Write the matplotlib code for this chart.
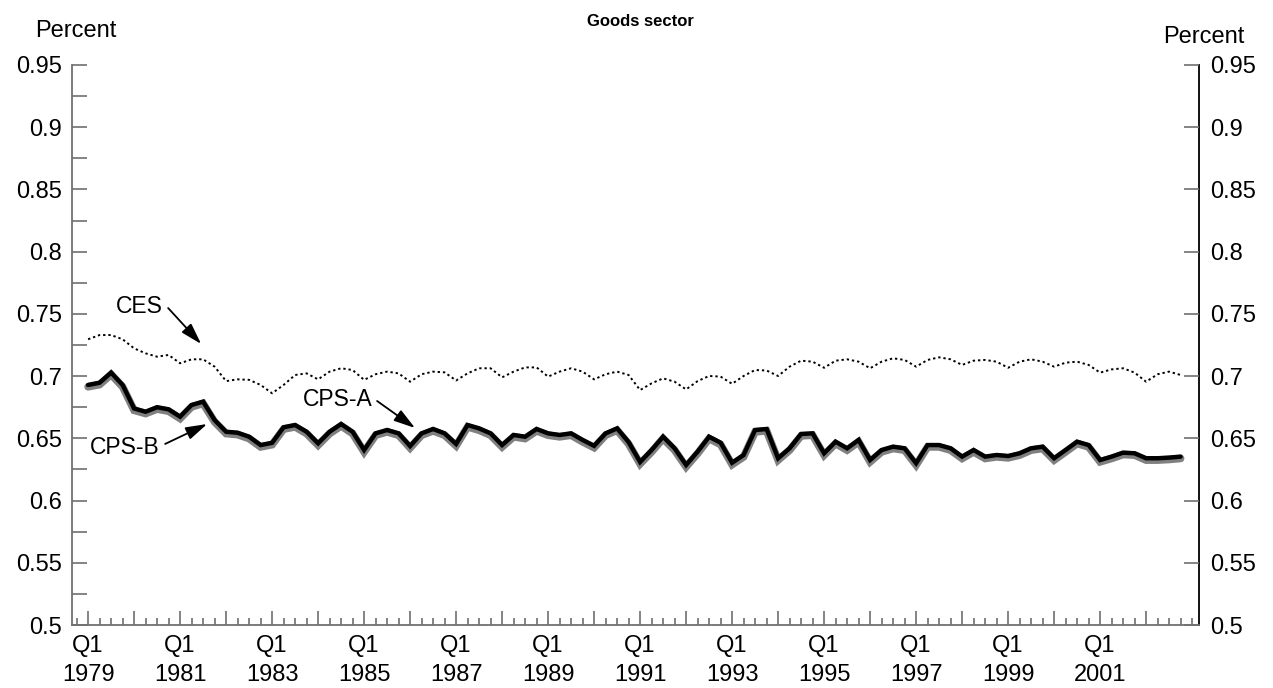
import matplotlib
matplotlib.use("Agg")
import matplotlib.pyplot as plt
from matplotlib.ticker import FixedLocator, MultipleLocator, FuncFormatter

plt.rcParams['font.family'] = ['Liberation Sans', 'DejaVu Sans']

# Quarterly data, 1979 Q1 .. 2002 Q4
start_year = 1979
n_quarters = 96

ces = [0.7296, 0.7330, 0.7330, 0.7296, 0.7223, 0.7183, 0.7156, 0.7170,
       0.7103, 0.7135, 0.7135, 0.7076, 0.6960, 0.6974, 0.6970, 0.6929,
       0.6862, 0.6929, 0.7009, 0.7022, 0.6974, 0.7036, 0.7063, 0.7049,
       0.6970, 0.7015, 0.7036, 0.7022, 0.6955, 0.7015, 0.7036, 0.7030,
       0.6965, 0.7022, 0.7063, 0.7063, 0.6990, 0.7036, 0.7070, 0.7070,
       0.6996, 0.7036, 0.7063, 0.7036, 0.6974, 0.7015, 0.7036, 0.7009,
       0.6888, 0.6942, 0.6982, 0.6955, 0.6893, 0.6960, 0.7001, 0.6996,
       0.6938, 0.7001, 0.7049, 0.7045, 0.7001, 0.7076, 0.7124, 0.7116,
       0.7067, 0.7124, 0.7135, 0.7116, 0.7063, 0.7116, 0.7143, 0.7130,
       0.7076, 0.7130, 0.7151, 0.7135, 0.7090, 0.7124, 0.7130, 0.7116,
       0.7067, 0.7116, 0.7135, 0.7116, 0.7076, 0.7108, 0.7116, 0.7090,
       0.7028, 0.7054, 0.7063, 0.7028, 0.6955, 0.7015, 0.7036, 0.7009]

cps_a = [0.6929, 0.6947, 0.7028, 0.6929, 0.6740, 0.6714, 0.6750, 0.6733,
         0.6674, 0.6768, 0.6795, 0.6647, 0.6553, 0.6545, 0.6513, 0.6446,
         0.6464, 0.6589, 0.6607, 0.6553, 0.6460, 0.6553, 0.6615, 0.6553,
         0.6406, 0.6540, 0.6567, 0.6540, 0.6438, 0.6540, 0.6575, 0.6540,
         0.6455, 0.6607, 0.6580, 0.6540, 0.6446, 0.6527, 0.6513, 0.6575,
         0.6540, 0.6527, 0.6540, 0.6487, 0.6440, 0.6540, 0.6580, 0.6470,
         0.6310, 0.6406, 0.6513, 0.6420, 0.6286, 0.6393, 0.6513, 0.6465,
         0.6304, 0.6366, 0.6567, 0.6575, 0.6340, 0.6420, 0.6535, 0.6540,
         0.6380, 0.6473, 0.6420, 0.6487, 0.6326, 0.6406, 0.6433, 0.6420,
         0.6300, 0.6446, 0.6446, 0.6420, 0.6353, 0.6406, 0.6353, 0.6366,
         0.6358, 0.6380, 0.6420, 0.6433, 0.6340, 0.6406, 0.6473, 0.6446,
         0.6326, 0.6353, 0.6385, 0.6380, 0.6340, 0.6340, 0.6345, 0.6353]

cps_b = [0.6914, 0.6932, 0.7013, 0.6914, 0.6725, 0.6699, 0.6735, 0.6718,
         0.6659, 0.6753, 0.6780, 0.6632, 0.6538, 0.6530, 0.6498, 0.6431,
         0.6449, 0.6574, 0.6592, 0.6538, 0.6445, 0.6538, 0.6600, 0.6538,
         0.6391, 0.6525, 0.6552, 0.6525, 0.6423, 0.6525, 0.6560, 0.6525,
         0.6440, 0.6592, 0.6565, 0.6525, 0.6431, 0.6512, 0.6498, 0.6560,
         0.6525, 0.6512, 0.6525, 0.6472, 0.6425, 0.6525, 0.6565, 0.6455,
         0.6295, 0.6391, 0.6498, 0.6405, 0.6271, 0.6378, 0.6498, 0.6450,
         0.6289, 0.6351, 0.6552, 0.6560, 0.6325, 0.6405, 0.6520, 0.6525,
         0.6365, 0.6458, 0.6405, 0.6472, 0.6311, 0.6391, 0.6418, 0.6405,
         0.6285, 0.6431, 0.6431, 0.6405, 0.6338, 0.6391, 0.6338, 0.6351,
         0.6343, 0.6365, 0.6405, 0.6418, 0.6325, 0.6391, 0.6458, 0.6431,
         0.6311, 0.6338, 0.6370, 0.6365, 0.6325, 0.6325, 0.6330, 0.6338]

x = list(range(n_quarters))

W, H = 1273, 688
fig = plt.figure(figsize=(W / 100, H / 100), dpi=100)
ax = fig.add_axes([72 / W, (H - 625) / H, (1199 - 72) / W, (625 - 65) / H])

ax.plot(x, ces, color='black', lw=1.4, linestyle=(0, (1.2, 1.5)))
ax.plot(x, cps_b, color='#808080', lw=5.5, solid_joinstyle='miter', solid_capstyle='round')
ax.plot(x, cps_a, color='black', lw=3.2, solid_joinstyle='miter', solid_capstyle='round')

ax.set_xlim(-1.4, 96.6)
ax.set_ylim(0.5, 0.95)

axis_gray = '#707070'
ax.spines['top'].set_visible(False)
ax.spines['left'].set_color(axis_gray)
ax.spines['bottom'].set_color(axis_gray)
ax.spines['right'].set_color('black')
for s in ax.spines.values():
    s.set_linewidth(1.3)

# x ticks: quarterly minor, yearly major, labels every two years
ax.xaxis.set_major_locator(FixedLocator(list(range(0, n_quarters, 4))))
ax.xaxis.set_minor_locator(MultipleLocator(1))

def xfmt(v, pos):
    i = int(round(v))
    if i % 8 == 0:
        return "Q1\n%d" % (start_year + i // 4)
    return ""

ax.xaxis.set_major_formatter(FuncFormatter(xfmt))
ax.tick_params(axis='x', which='major', direction='in', length=10, width=1.2,
               color=axis_gray, labelsize=17, pad=7.5)
ax.tick_params(axis='x', which='minor', direction='in', length=5, width=1.2,
               color=axis_gray)
for lab in ax.get_xticklabels():
    lab.set_linespacing(1.38)

# y ticks: labels on both sides
yticks = [0.5, 0.55, 0.6, 0.65, 0.7, 0.75, 0.8, 0.85, 0.9, 0.95]
ax.set_yticks(yticks)
ax.yaxis.set_minor_locator(MultipleLocator(0.025))
ax.yaxis.set_major_formatter(FuncFormatter(lambda v, p: "%g" % round(v, 3)))
ax.tick_params(axis='y', which='both', direction='in', length=11, width=1.2,
               color=axis_gray, labelsize=17, pad=7,
               left=True, right=False, labelleft=True, labelright=False)

ax2 = ax.twinx()
ax2.set_ylim(ax.get_ylim())
ax2.set_yticks(yticks)
ax2.yaxis.set_major_formatter(FuncFormatter(lambda v, p: "%g" % round(v, 3)))
ax2.tick_params(axis='y', direction='in', length=11, width=1.2,
                color=axis_gray, labelsize=17, pad=8)
for s in ax2.spines.values():
    s.set_visible(False)

# annotation labels and arrows
arrow = dict(arrowstyle='-|>,head_length=0.5,head_width=0.15', color='black',
             lw=1.3, mutation_scale=26, shrinkA=0, shrinkB=0)
ax.text(6.52, 0.7563, 'CES', fontsize=16.5, ha='right', va='center')
ax.annotate('', xy=(9.83, 0.7258), xytext=(6.96, 0.7547), arrowprops=arrow)
ax.text(21.7, 0.6816, 'CPS-A', fontsize=16.5, ha='center', va='center')
ax.annotate('', xy=(28.43, 0.6583), xytext=(25.13, 0.6800), arrowprops=arrow)
ax.text(3.17, 0.6430, 'CPS-B', fontsize=16.5, ha='center', va='center')
ax.annotate('', xy=(10.35, 0.6615), xytext=(6.70, 0.6455), arrowprops=arrow)

fig.text(640 / W, 1 - 21 / H, 'Goods sector', ha='center', va='center',
         fontsize=12, fontweight='bold')
fig.text(76 / W, 1 - 31 / H, 'Percent', ha='center', va='center', fontsize=17)
fig.text(1204 / W, 1 - 37 / H, 'Percent', ha='center', va='center', fontsize=17)

fig.savefig('out.png', dpi=100)
